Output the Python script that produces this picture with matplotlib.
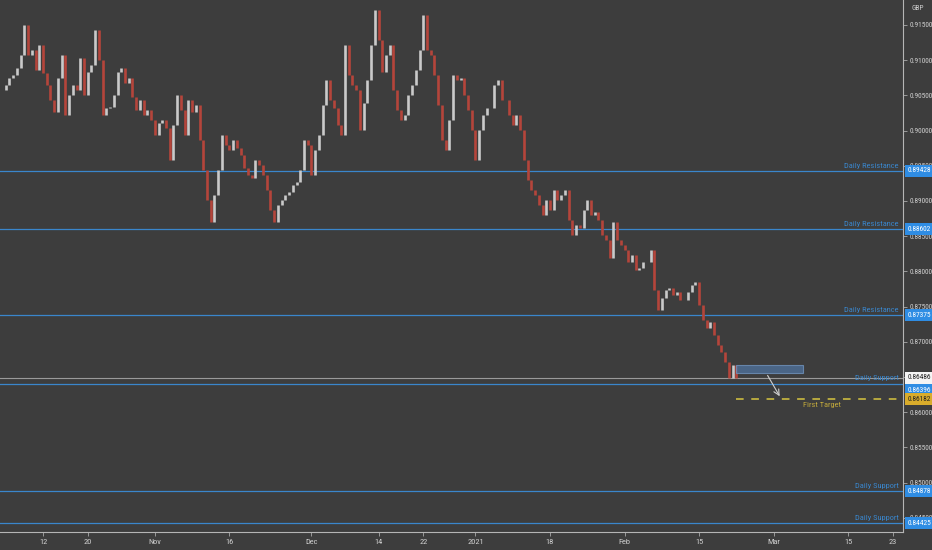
import numpy as np
import pandas as pd
import matplotlib
matplotlib.use('Agg')
import matplotlib.pyplot as plt
from matplotlib.patches import Rectangle

plt.rcParams['font.family'] = ['Roboto Condensed', 'Liberation Sans Narrow',
                               'DejaVu Sans Condensed', 'Liberation Sans', 'DejaVu Sans']

# EUR/GBP, two closes per trading day (morning / afternoon)
first_open = 0.9058
oct_closes = [0.9065, 0.9075, 0.9079, 0.9089, 0.9107, 0.9150, 0.9107, 0.9115, 0.9086, 0.9122,
              0.9082, 0.9065, 0.9044, 0.9026, 0.9075, 0.9107, 0.9022, 0.9051, 0.9065, 0.9058,
              0.9103, 0.9051, 0.9083, 0.9093, 0.9143, 0.9100, 0.9022, 0.9032, 0.9034, 0.9051,
              0.9083, 0.9089, 0.9068, 0.9075, 0.9048, 0.9029, 0.9044, 0.9022, 0.9029, 0.9015]
nov_closes = [0.8994, 0.9011, 0.9015, 0.9004, 0.8958, 0.9008, 0.9051, 0.9029, 0.8994, 0.9044,
              0.9026, 0.9036, 0.8987, 0.8944, 0.8901, 0.8870, 0.8909, 0.8944, 0.8994, 0.8980,
              0.8972, 0.8987, 0.8975, 0.8965, 0.8947, 0.8937, 0.8933, 0.8958, 0.8951, 0.8937,
              0.8916, 0.8887, 0.8870, 0.8894, 0.8901, 0.8909, 0.8913, 0.8923, 0.8927, 0.8944,
              0.8987, 0.8980]
dec_closes = [0.8937, 0.8972, 0.8994, 0.9036, 0.9072, 0.9044, 0.9032, 0.9008, 0.8994, 0.9122,
              0.9079, 0.9065, 0.9058, 0.9001, 0.9039, 0.9072, 0.9122, 0.9171, 0.9129, 0.9083,
              0.9107, 0.9122, 0.9058, 0.9029, 0.9015, 0.9022, 0.9051, 0.9065, 0.9086, 0.9115,
              0.9164, 0.9115, 0.9107, 0.9079, 0.9036, 0.8987, 0.8972, 0.9015, 0.9079, 0.9072,
              0.9075, 0.9051, 0.9029, 0.9001]
jan_closes = [0.8958, 0.9001, 0.9022, 0.9032, 0.9032, 0.9065, 0.9072, 0.9044, 0.9044, 0.9022,
              0.9008, 0.9022, 0.9001, 0.8958, 0.8930, 0.8916, 0.8909, 0.8894, 0.8880, 0.8901,
              0.8887, 0.8916, 0.8901, 0.8909, 0.8916, 0.8873, 0.8852, 0.8866, 0.8862, 0.8887,
              0.8901, 0.8880, 0.8884, 0.8873, 0.8852, 0.8845, 0.8819, 0.8870, 0.8845, 0.8838]
feb_closes = [0.8830, 0.8813, 0.8823, 0.8802, 0.8805, 0.8813, 0.8813, 0.8830, 0.8773, 0.8745,
              0.8762, 0.8773, 0.8776, 0.8766, 0.8771, 0.8759, 0.8759, 0.8771, 0.8781, 0.8785,
              0.8752, 0.8731, 0.8720, 0.8728, 0.8710, 0.8695, 0.8686, 0.8671, 0.8649, 0.8667,
              0.8649]

# horizontal levels drawn on the chart
resistance_levels = [0.89428, 0.88602, 0.87375]
support_levels = [0.84878, 0.84425]
support_near = 0.86396
grey_level = 0.86486
target_level = 0.86182

# selling zone and arrow
zone_dates = ['2021-02-22', '2021-03-05']
zone_prices = [0.86557, 0.86670]
arrow_dates = ['2021-02-26', '2021-03-02']

yticks = [0.845, 0.850, 0.855, 0.860, 0.865, 0.870, 0.875, 0.880, 0.885, 0.890,
          0.895, 0.900, 0.905, 0.910, 0.915]
xtick_dates = ['2020-10-12', '2020-10-20', '2020-11-02', '2020-11-16', '2020-12-01',
               '2020-12-14', '2020-12-22', '2021-01-04', '2021-01-18', '2021-02-01',
               '2021-02-15', '2021-03-01', '2021-03-15', '2021-03-23']
xtick_labels = ['12', '20', 'Nov', '16', 'Dec', '14', '22', '2021', '18', 'Feb',
                '15', 'Mar', '15', '23']

# trading calendar (no candles on Christmas / New Year)
days = pd.bdate_range('2020-10-05', '2021-03-31', freq='C',
                      holidays=['2020-12-25', '2021-01-01'])
pos = {d.strftime('%Y-%m-%d'): i for i, d in enumerate(days)}

closes = np.array(oct_closes + nov_closes + dec_closes + jan_closes + feb_closes)
opens = np.concatenate([[first_open], closes[:-1]])
x = np.arange(len(closes)) * 0.5

bg = '#3d3d3d'
blue = '#3a86cc'
txt = '#cfcfcf'
fs = 6.0      # captions, date labels
fs_ax = 5.3   # price scale

fig = plt.figure(figsize=(9.32, 5.5), dpi=100, facecolor=bg)
ax = fig.add_axes([0, 18 / 550, 903 / 932, 532 / 550], facecolor=bg)

# candles
up = closes >= opens
cols = np.where(up, '#cacaca', '#b5453b')
ax.vlines(x, np.minimum(opens, closes), np.maximum(opens, closes),
          colors=cols, linewidth=1.9, zorder=3)

# levels
for lv in resistance_levels + support_levels + [support_near]:
    ax.axhline(lv, color=blue, lw=0.9, zorder=2)
ax.axhline(grey_level, color='#9a9a9a', lw=0.8, zorder=2)
x_last = x[-1]
ax.hlines(target_level, x_last, 200, colors='#d8c640', linestyles=(0, (5, 5)),
          lw=1.1, zorder=2)

# level captions
for lv in resistance_levels:
    ax.annotate('Daily Resistance', xy=(0.995, lv), xycoords=('axes fraction', 'data'),
                xytext=(0, 1.5), textcoords='offset points', ha='right', va='bottom',
                fontsize=fs, color=blue)
for lv in support_levels:
    ax.annotate('Daily Support', xy=(0.995, lv), xycoords=('axes fraction', 'data'),
                xytext=(0, 1.5), textcoords='offset points', ha='right', va='bottom',
                fontsize=fs, color=blue)
ax.annotate('Daily Support', xy=(0.995, grey_level), xycoords=('axes fraction', 'data'),
            ha='right', va='center', fontsize=fs, color=blue)

# zone box, arrow and target label
zx0, zx1 = pos[zone_dates[0]], pos[zone_dates[1]]
ax.add_patch(Rectangle((zx0, zone_prices[0]), zx1 - zx0, zone_prices[1] - zone_prices[0],
                       facecolor='#4d6d94', edgecolor='#6d8fb8', lw=0.8, alpha=0.85, zorder=4))
ax.annotate('', xy=(pos[arrow_dates[1]], target_level + 0.0001),
            xytext=(pos[arrow_dates[0]], zone_prices[0]),
            arrowprops=dict(arrowstyle='->', color='#d0d0d0', lw=0.8), zorder=5)
ax.text(zx1, target_level - 0.0004, 'First Target', fontsize=fs,
        color='#c2a93c', ha='left', va='top')

# price tags on the right axis (the 0.86396 tag is pushed down to clear the white one)
pad = 'square,pad=0.35'


def tag(level, fc, tc, dy=0):
    ax.annotate(f'{level:.5f}', xy=(1.005, level), xycoords=('axes fraction', 'data'),
                xytext=(0, dy), textcoords='offset points', ha='left', va='center',
                fontsize=fs_ax, color=tc, zorder=10, annotation_clip=False,
                bbox=dict(boxstyle=pad, fc=fc, ec='none'))


for lv in resistance_levels + support_levels:
    tag(lv, '#2f8de4', 'white')
tag(support_near, '#2f8de4', 'white', dy=-4.5)
tag(grey_level, '#f4f4f4', '#222222')
tag(target_level, '#d9ac2b', '#222222')

fig.text(918 / 932, 1 - 8 / 550, 'GBP', fontsize=fs_ax, color=txt, ha='center', va='center')

# axes
ax.set_xlim(-0.77, pos['2021-03-23'] + 1.35)
ax.set_ylim(0.84298, 0.91855)
ax.yaxis.tick_right()
ax.set_yticks(yticks)
ax.set_yticklabels([f'{v:.5f}' for v in yticks])
ax.set_xticks([pos[d] for d in xtick_dates])
ax.set_xticklabels(xtick_labels)
ax.tick_params(axis='both', colors='#a8a8a8', labelcolor=txt,
               length=3, width=0.6, pad=2)
ax.tick_params(axis='y', labelsize=fs_ax)
ax.tick_params(axis='x', labelsize=fs)
for s in ['top', 'left']:
    ax.spines[s].set_visible(False)
for s in ['right', 'bottom']:
    ax.spines[s].set_color('#b5b5b5')
    ax.spines[s].set_linewidth(0.8)

fig.savefig('out.png', dpi=100, facecolor=bg)
